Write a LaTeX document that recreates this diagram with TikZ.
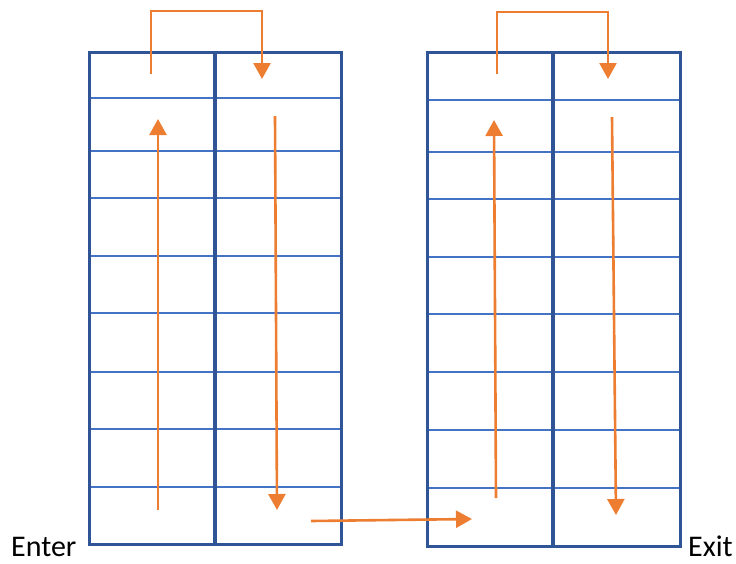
\documentclass[tikz,border=0pt]{standalone}
\usepackage{fontspec}
\setmainfont{Carlito}
\usetikzlibrary{arrows.meta}
\definecolor{frameblue}{HTML}{2F5597}
\definecolor{lineblue}{HTML}{4472C4}
\definecolor{arroworange}{HTML}{ED7D31}
\tikzset{
  rackframe/.style={draw=frameblue,line width=3pt},
  rackdiv/.style={draw=frameblue,line width=3.8pt},
  shelf/.style={draw=lineblue,line width=2.4pt},
  flow/.style={draw=arroworange,line width=2.6pt,-{Triangle[width=17pt,length=16pt]}},
  label/.style={font=\fontsize{30}{35}\selectfont,inner sep=0pt,anchor=base}
}
\begin{document}
\begin{tikzpicture}[x=1pt,y=-1pt]
\useasboundingbox (0,0) rectangle (736,563);
% left rack
\foreach \y in {98,151,198,256,313,372,429,487}{
  \draw[shelf] (91,\y) -- (213,\y);
  \draw[shelf] (217,\y) -- (340,\y);
}
\draw[rackframe] (89,52) rectangle (341,544);
\draw[rackdiv] (215,52) -- (215,544);
% right rack
\foreach \y in {100,152,199,257,314,372,430,488}{
  \draw[shelf] (429,\y) -- (551,\y);
  \draw[shelf] (555,\y) -- (679,\y);
}
\draw[rackframe] (427,52) rectangle (680,546);
\draw[rackdiv] (553,52) -- (553,546);
% coordinates
\coordinate (l1s) at (158,510);
\coordinate (l1e) at (158,119);
\coordinate (ltops) at (151,74);
\coordinate (ltope) at (262,79);
\coordinate (l2s) at (275,116);
\coordinate (l2e) at (277,510);
\coordinate (bs) at (311,521);
\coordinate (be) at (472,519);
\coordinate (r1s) at (496,498);
\coordinate (r1e) at (494,120);
\coordinate (rtops) at (497,74);
\coordinate (rtope) at (608,79);
\coordinate (r2s) at (612,117);
\coordinate (r2e) at (616,515);
% arrows
\draw[flow] (l1s) -- (l1e);
\draw[flow] (ltops) -- (ltops |- 0,11) -| (ltope);
\draw[flow] (l2s) -- (l2e);
\draw[flow] (bs) -- (be);
\draw[flow] (r1s) -- (r1e);
\draw[flow] (rtops) -- (rtops |- 0,12) -| (rtope);
\draw[flow] (r2s) -- (r2e);
% labels
\node[label,anchor=base west] (enter) at (11,556) {Enter};
\node[label,anchor=base east] (exit) at (733,556) {Exit};
\end{tikzpicture}
\end{document}
